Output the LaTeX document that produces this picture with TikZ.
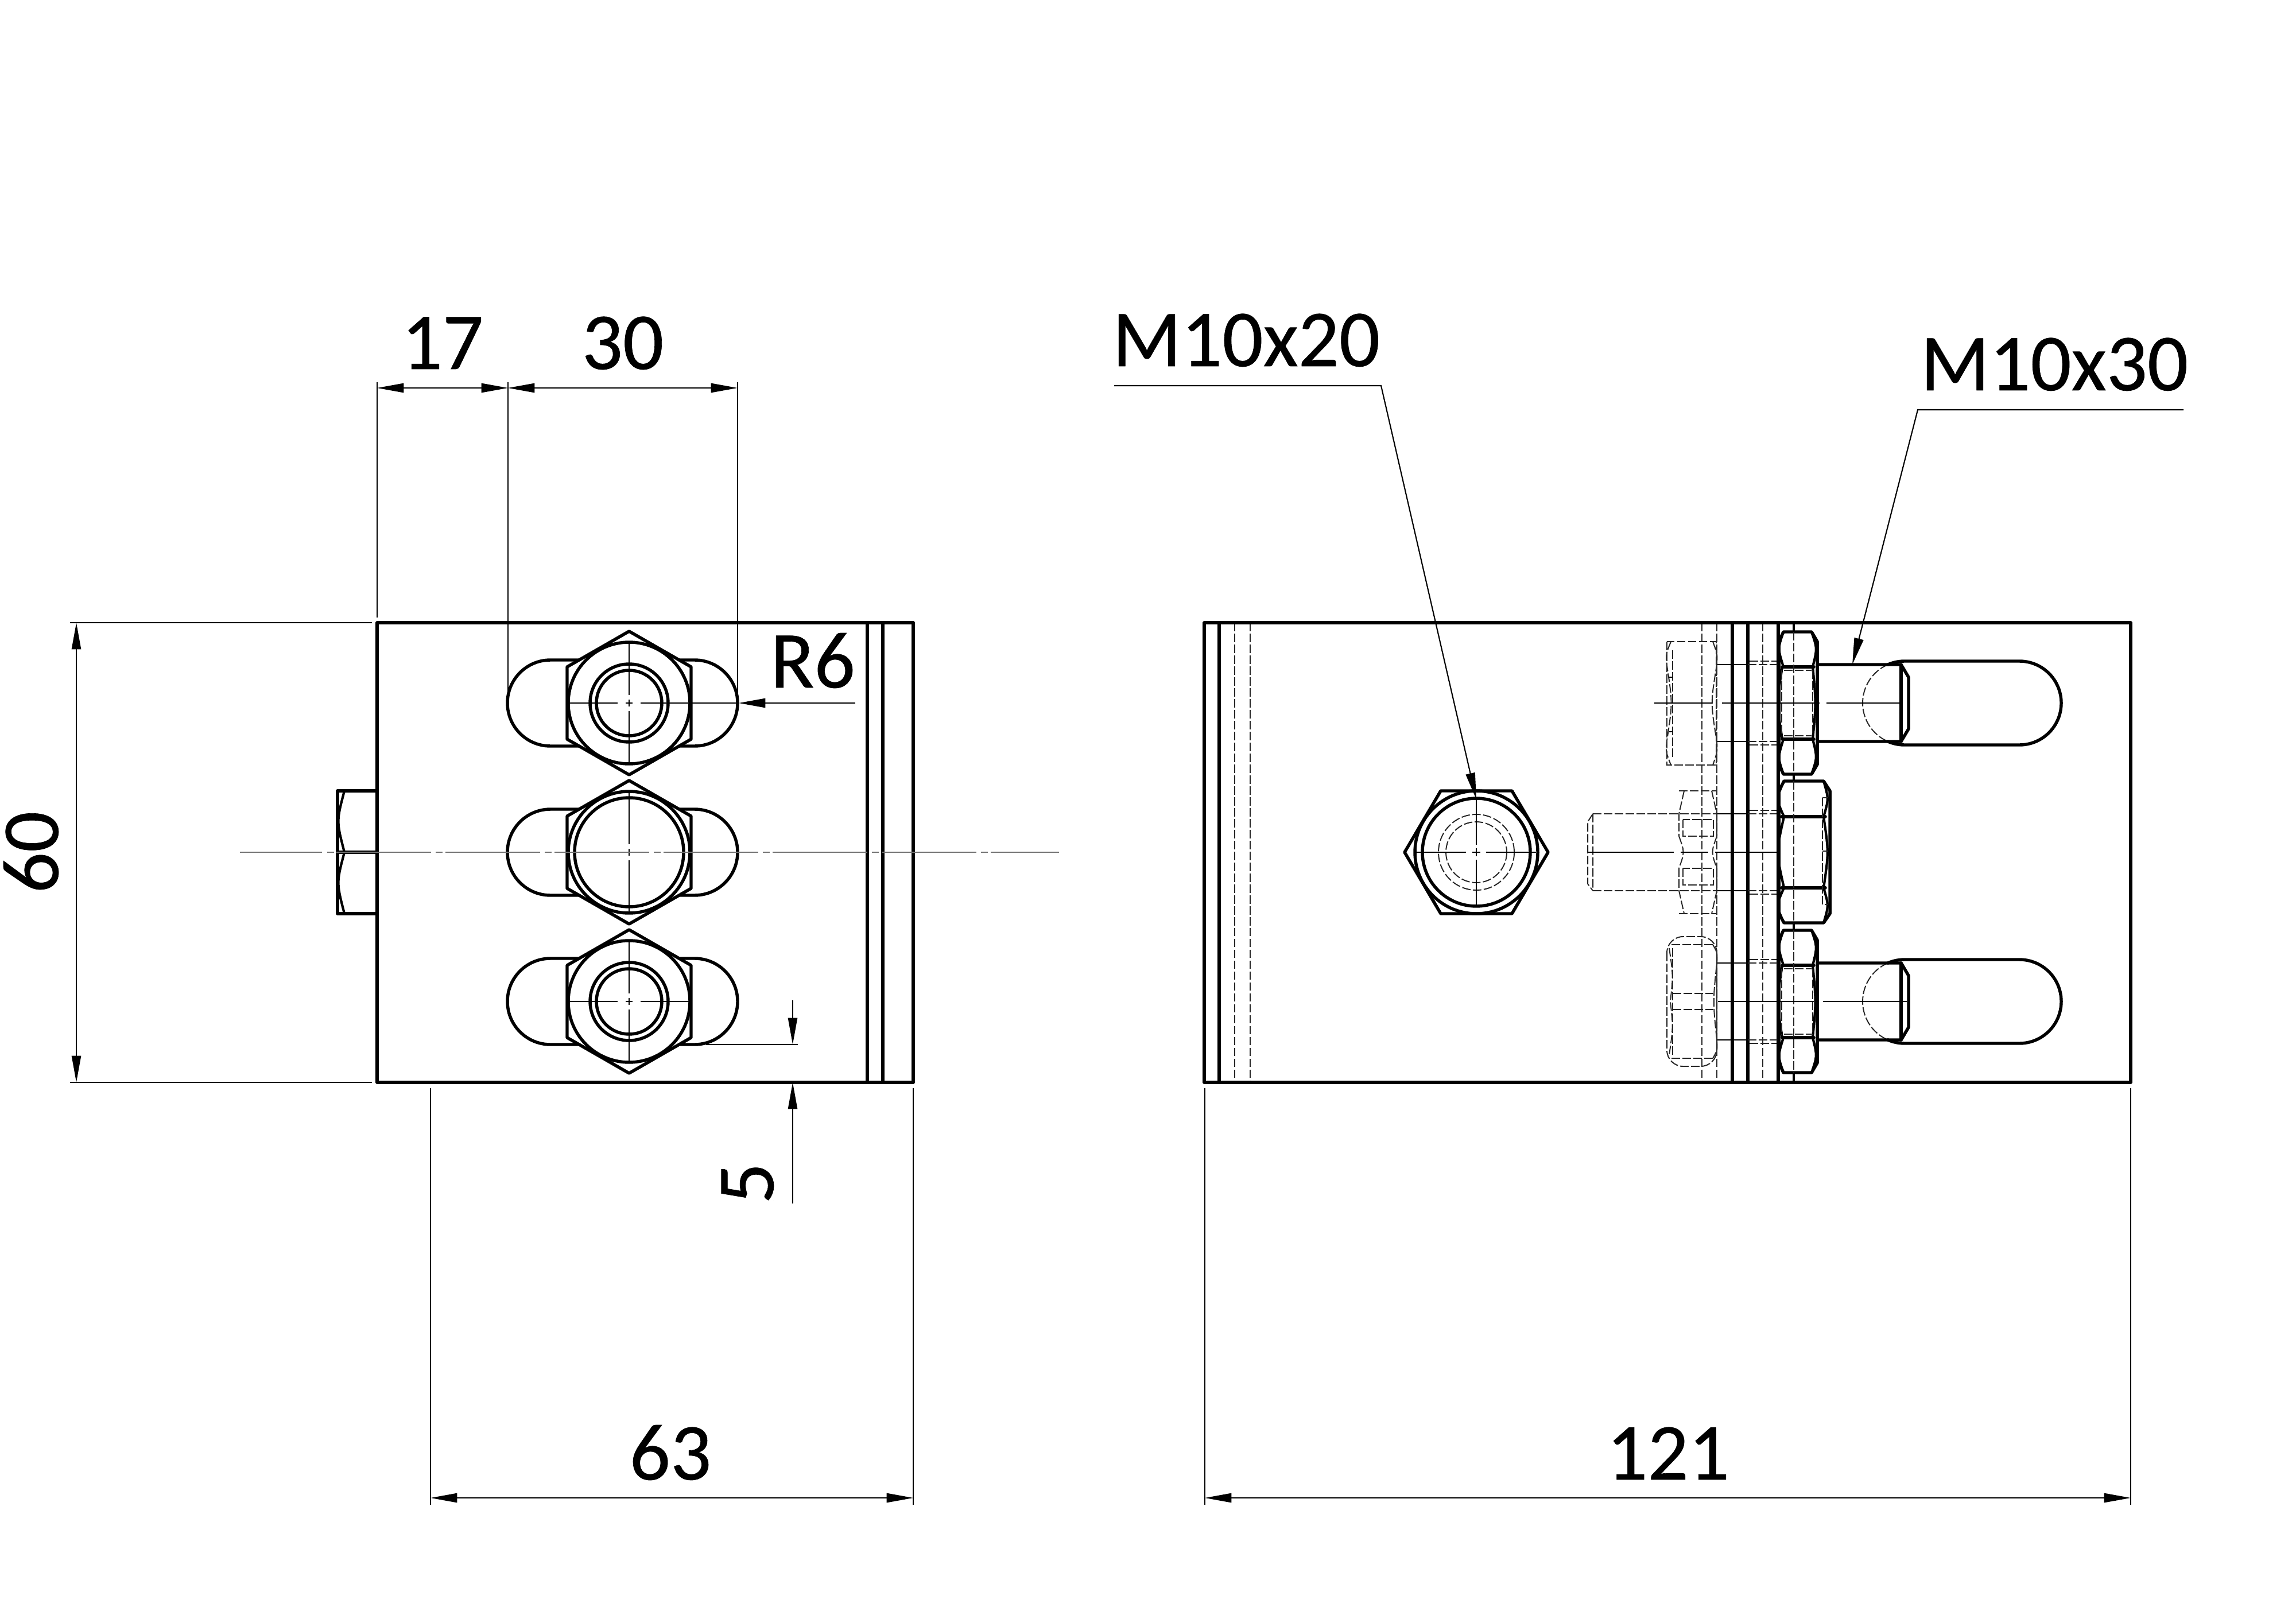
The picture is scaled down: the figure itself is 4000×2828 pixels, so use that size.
\documentclass[tikz,border=0pt]{standalone}
\usepackage{fontspec}
\setmainfont{Carlito}[FakeBold=0.5]
\usetikzlibrary{arrows.meta}
\tikzset{
  x=0.01cm,y=-0.01cm,
  heavy/.style={line width=1.55pt,line join=round,line cap=round,black},
  medium/.style={line width=1.2pt,line join=round,line cap=round,black},
  thinline/.style={line width=0.6pt,black},
  hidden/.style={line width=0.55pt,black!85,dash pattern=on 4.2pt off 1.2pt},
  axisline/.style={line width=0.6pt,black!55,dash pattern=on 46.9pt off 2.3pt on 3.4pt off 1.4pt,dash phase=6.1pt},
  tipA/.style={-{Triangle[length=13.2pt,width=4.6pt]}},
  tipB/.style={{Triangle[length=13.2pt,width=4.6pt]}-{Triangle[length=13.2pt,width=4.6pt]}},
  label/.style={inner sep=0pt,outer sep=0pt,font=\fontsize{40pt}{40pt}\selectfont,black},
}
% front view: slot, hexagon and circles; #1 = centre y
\newcommand{\mySlot}[1]{%
  \draw[heavy] (959,#1-75) arc[start angle=-90,end angle=-270,radius=75] -- (1210,#1+75)
     arc[start angle=90,end angle=-90,radius=75] -- cycle;}
\newcommand{\myHex}[1]{%
  \draw[heavy,fill=white] (1096,#1-125)--(1204,#1-63)--(1204,#1+63)--(1096,#1+125)--(988,#1+63)--(988,#1-63)--cycle;}
\newcommand{\myCross}[1]{%
  \draw[thinline] (1096,#1-106)--(1096,#1-14) (1096,#1-6)--(1096,#1+6) (1096,#1+14)--(1096,#1+106);}
\newcommand{\myCrossH}[1]{%
  \draw[thinline] (990,#1)--(1076,#1) (1090,#1)--(1102,#1) (1116,#1)--(1202,#1);}
% side view: thick three-face nut; #1 = centre y
\newcommand{\sideNut}[1]{%
  \draw[heavy,fill=white] (3107,#1-124)--(3156,#1-124)--(3166,#1-107)--(3166,#1+107)--(3156,#1+124)--(3107,#1+124)--(3099,#1+107)--(3099,#1-107)--cycle;
  \draw[heavy] (3105,#1-63)--(3160,#1-63) (3105,#1+63)--(3160,#1+63);
  \draw[medium] (3107,#1-124) .. controls (3097,#1-95) .. (3107,#1-63)
                (3156,#1-124) .. controls (3166,#1-95) .. (3158,#1-63)
                (3105,#1-63) .. controls (3095,#1) .. (3105,#1+63)
                (3158,#1-63) .. controls (3164,#1) .. (3158,#1+63)
                (3107,#1+124) .. controls (3097,#1+95) .. (3107,#1+63)
                (3156,#1+124) .. controls (3166,#1+95) .. (3158,#1+63);
  \draw[hidden] (3108,#1-57)--(3156,#1-57) (3108,#1+57)--(3156,#1+57) (3158,#1-57)--(3158,#1+57) (3104,#1-57)--(3104,#1+57);
  }
% side view: shank with slot; #1 = centre y
\newcommand{\sideBolt}[1]{%
  \draw[heavy] (3289,#1-67) arc[start angle=-113.4,end angle=-90,radius=73] -- (3518,#1-73)
     arc[start angle=-90,end angle=90,radius=73] -- (3318,#1+73) arc[start angle=90,end angle=113.4,radius=73];
  \draw[hidden] (3289,#1-67) arc[start angle=-113.4,end angle=-246.6,radius=73];
  \draw[heavy] (3166,#1-67)--(3312,#1-67)--(3325,#1-45)--(3325,#1+45)--(3312,#1+67)--(3166,#1+67);
  \draw[heavy] (3312,#1-67)--(3312,#1+67);
  \draw[thinline] (2991,#1-67)--(3045,#1-67) (2991,#1+67)--(3045,#1+67);
  \draw[hidden] (3045,#1-67)--(3160,#1-67) (3045,#1+67)--(3160,#1+67);
  \draw[hidden] (3048,#1-73)--(3095,#1-73) (3048,#1+73)--(3095,#1+73);}
\begin{document}
\begin{tikzpicture}
\useasboundingbox (0,0) rectangle (4000,2828);
\fill[white] (0,0) rectangle (4000,2828);

%% ---------- left view ----------
\mySlot{1225}\mySlot{1485}\mySlot{1745}
\myHex{1225}\myHex{1485}\myHex{1745}
\draw[heavy] (1096,1225) circle[radius=106] (1096,1225) circle[radius=68] (1096,1225) circle[radius=57];
\draw[heavy] (1096,1485) circle[radius=106] (1096,1485) circle[radius=95];
\draw[heavy] (1096,1745) circle[radius=106] (1096,1745) circle[radius=68] (1096,1745) circle[radius=57];
\myCross{1225}\myCross{1485}\myCross{1745}
\myCrossH{1225}\myCrossH{1745}
% body
\draw[heavy] (657,1085) rectangle (1591,1886);
\draw[heavy] (1511,1085)--(1511,1886) (1538,1085)--(1538,1886);
% small bolt head at the left
\draw[heavy] (657,1378)--(588,1378)--(588,1592)--(657,1592) (588,1485)--(657,1485);
\draw[medium] (600,1378) .. controls (586,1431) .. (600,1485) .. controls (586,1538) .. (600,1592);
% axis
\draw[axisline] (418,1485)--(1845,1485);

% dimensions, left view
\coordinate (d17a) at (657,676); \coordinate (d17b) at (885,676); \coordinate (d30b) at (1285,676);
\draw[thinline] (657,666)--(657,1076) (885,666)--(885,1220) (1285,666)--(1285,1220);
\draw[thinline,tipB] (d17a)--(d17b);
\draw[thinline,tipB] (d17b)--(d30b);
\node[label,anchor=base] (t17) at (771,643) {17};
\node[label,anchor=base] (t30) at (1085,643) {30};

\coordinate (d60a) at (133,1085); \coordinate (d60b) at (133,1886);
\draw[thinline] (122,1085)--(648,1085) (122,1886)--(648,1886);
\draw[thinline,tipB] (d60a)--(d60b);
\node[label,rotate=90,anchor=base] (t60) at (101,1485) {60};

\coordinate (r6a) at (1490,1225); \coordinate (r6b) at (1287,1225);
\draw[thinline,tipA] (r6a)--(r6b);
\draw[thinline] (1202,1225)--(1285,1225);
\node[label,anchor=base] (tR) at (1416,1198) {R6};

\coordinate (d5a) at (1381,1743); \coordinate (d5b) at (1381,1820);
\coordinate (d5c) at (1381,2097); \coordinate (d5d) at (1381,1886);
\draw[thinline] (1230,1820)--(1390,1820);
\draw[thinline,tipA] (d5a)--(d5b);
\draw[thinline,tipA] (d5c)--(d5d);
\node[label,rotate=90,anchor=base] (t5) at (1347,2062) {5};

\coordinate (d63a) at (750,2610); \coordinate (d63b) at (1591,2610);
\draw[thinline] (750,1896)--(750,2622) (1591,1896)--(1591,2622);
\draw[thinline,tipB] (d63a)--(d63b);
\node[label,anchor=base] (t63) at (1168,2578) {63};

%% ---------- right view ----------
\draw[hidden] (2151,1085)--(2151,1886) (2178,1085)--(2178,1886);
\draw[hidden] (2965,1085)--(2965,1886) (2991,1085)--(2991,1886) (3071,1085)--(3071,1886);
\draw[heavy] (2098,1085) rectangle (3712,1886);
\draw[heavy] (2124,1085)--(2124,1886) (3018,1085)--(3018,1886) (3045,1085)--(3045,1886) (3098,1085)--(3098,1886);
\draw[medium] (3125,1085)--(3125,1886);

% front bolt
\draw[heavy] (2447,1485)--(2510,1378)--(2634,1378)--(2697,1485)--(2634,1592)--(2510,1592)--cycle;
\draw[heavy] (2572,1485) circle[radius=107] (2572,1485) circle[radius=94];
\draw[hidden] (2572,1485) circle[radius=66] (2572,1485) circle[radius=53];
\draw[thinline] (2467,1485)--(2554,1485) (2565,1485)--(2579,1485) (2589,1485)--(2676,1485);
\draw[thinline] (2572,1393)--(2572,1472) (2572,1478)--(2572,1492) (2572,1498)--(2572,1578);

% side bolts and nuts
\sideBolt{1225}\sideBolt{1745}
\sideNut{1225}\sideNut{1745}
% middle nut
\draw[heavy,fill=white] (3108,1361)--(3177,1361)--(3188,1378)--(3188,1592)--(3177,1608)--(3108,1608)--(3099,1592)--(3099,1378)--cycle;
\draw[heavy] (3104,1423)--(3180,1423) (3104,1547)--(3180,1547);
\draw[medium] (3108,1361) .. controls (3094,1392) .. (3108,1423)
              (3177,1361) .. controls (3186,1392) .. (3177,1423)
              (3108,1423) .. controls (3094,1485) .. (3108,1547)
              (3177,1423) .. controls (3186,1485) .. (3177,1547)
              (3108,1608) .. controls (3094,1578) .. (3108,1547)
              (3177,1608) .. controls (3186,1578) .. (3177,1547);
\draw[hidden] (3175,1390)--(3175,1576)--(3185,1576) (3175,1390)--(3185,1390) (3175,1483)--(3185,1483);
\draw[hidden] (3125,1101)--(3125,1349) (3125,1361)--(3125,1608) (3125,1621)--(3125,1869);

% hidden upper nut
\draw[hidden] (2904,1118) rectangle (2990,1333);
\draw[hidden] (2914,1133)--(2914,1322);
\draw[hidden] (2911,1118) .. controls (2902,1140) .. (2904,1160) .. controls (2914,1225) .. (2904,1290) .. controls (2902,1310) .. (2911,1333);
\draw[hidden] (2984,1118) .. controls (2992,1140) .. (2991,1158) .. controls (2980,1225) .. (2991,1292) .. controls (2992,1310) .. (2984,1333);
\draw[thinline] (2908,1180)--(2914,1180) (2908,1275)--(2914,1275);
% hidden lower nut
\draw[hidden,rounded corners=8] (2904,1632) rectangle (2991,1858);
\draw[hidden] (2914,1652)--(2914,1838);
\draw[hidden] (2912,1646)--(2984,1646) (2912,1844)--(2984,1844) (2914,1731)--(2984,1731) (2914,1759)--(2984,1759);
\draw[hidden] (2908,1652) .. controls (2915,1700) .. (2910,1745) .. controls (2915,1790) .. (2908,1838);
\draw[hidden] (2984,1646) .. controls (2992,1660) .. (2991,1678) .. controls (2984,1745) .. (2991,1812) .. controls (2992,1830) .. (2984,1844);
% hidden middle bolt and nut
\draw[hidden] (2775,1418)--(2991,1418) (3045,1418)--(3095,1418) (2775,1552)--(2991,1552) (3045,1552)--(3095,1552);
\draw[thinline] (2991,1418)--(3045,1418) (2991,1552)--(3045,1552);
\draw[hidden] (2775,1418)--(2775,1552) (2775,1418)--(2766,1432)--(2766,1540)--(2775,1552);
\draw[hidden] (3048,1412)--(3095,1412) (3048,1558)--(3095,1558);
\draw[hidden] (2925,1378)--(2991,1378) (2925,1592)--(2991,1592) (2934,1378)--(2925,1418)--(2925,1457) (2925,1513)--(2925,1552)--(2934,1592);
\draw[hidden] (2925,1457) .. controls (2935,1485) .. (2925,1513);
\draw[hidden] (2982,1378)--(2991,1418)--(2991,1457) (2991,1513)--(2991,1552)--(2982,1592);
\draw[hidden] (2991,1457) .. controls (2981,1485) .. (2991,1513);
\draw[hidden] (2932,1428) rectangle (2985,1457) (2932,1513) rectangle (2985,1542);

% centre lines, side view
\draw[thinline] (2882,1225)--(2983,1225) (3000,1225)--(3170,1225) (3182,1225)--(3207,1225) (3207,1225)--(3312,1225);
\draw[thinline] (2767,1485)--(2916,1485) (2928,1485)--(2976,1485) (2988,1485)--(3095,1485);
\draw[thinline] (2993,1745)--(3160,1745) (3176,1745)--(3322,1745);

% dimensions, right view
\coordinate (d121a) at (2099,2610); \coordinate (d121b) at (3712,2610);
\draw[thinline] (2099,1896)--(2099,2622) (3712,1896)--(3712,2622);
\draw[thinline,tipB] (d121a)--(d121b);
\node[label,anchor=base] (t121) at (2906,2578) {121};

\coordinate (m20a) at (1941,672); \coordinate (m20b) at (2406,672); \coordinate (m20c) at (2572,1393);
\draw[thinline,tipA] (m20a)--(m20b)--(m20c);
\node[label,anchor=base] (tm20) at (2171,638) {M10x20};

\coordinate (m30a) at (3804,714); \coordinate (m30b) at (3341,714); \coordinate (m30c) at (3227,1158);
\draw[thinline,tipA] (m30a)--(m30b)--(m30c);
\node[label,anchor=base] (tm30) at (3579,680) {M10x30};
\end{tikzpicture}
\end{document}
